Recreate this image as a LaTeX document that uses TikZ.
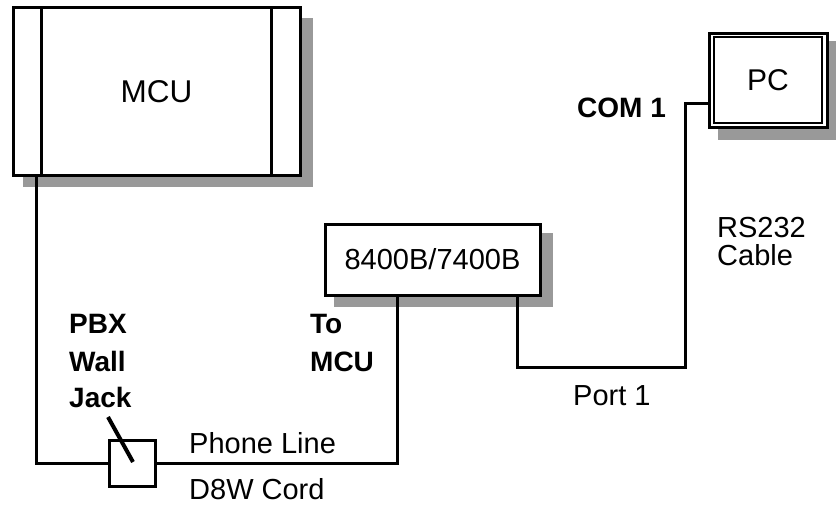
\documentclass[tikz,border=0pt]{standalone}
\usepackage{fontspec}
\setmainfont{Liberation Sans}
\usetikzlibrary{calc}
\definecolor{shadowgray}{RGB}{153,153,153}
\tikzset{
  box/.style={draw=black, line width=3pt, fill=white, rectangle, outer sep=0pt, inner sep=0pt,
     font=\fontsize{29}{29}\selectfont},
  wire/.style={draw=black, line width=3pt},
  lbl/.style={inner sep=0pt, anchor=base west, font=\fontsize{29}{29}\selectfont},
  blbl/.style={inner sep=0pt, anchor=base west, font=\fontsize{28}{28}\selectfont\bfseries},
}
\begin{document}
\begin{tikzpicture}[x=1pt,y=-1pt]
\useasboundingbox (0,0) rectangle (836,504);
% shadows
\fill[shadowgray] (23,18) rectangle (313,187);
\fill[shadowgray] (334,233) rectangle (553,307);
\fill[shadowgray] (718,41) rectangle (840,140);
% MCU
\node[box, minimum width=287pt, minimum height=167.5pt, font=\fontsize{31.5}{31.5}\selectfont] (mcu) at (156.5,91.25) {MCU};
\draw[wire] ($(mcu.north west)+(28.5,0)$) -- ($(mcu.south west)+(28.5,0)$);
\draw[wire] ($(mcu.north east)+(-28.5,0)$) -- ($(mcu.south east)+(-28.5,0)$);
% PC
\node[box, minimum width=118pt, minimum height=94pt, font=\fontsize{30}{30}\selectfont] (pc) at (768,80) {PC};
\draw[line width=2pt] ($(pc.north west)+(5,4)$) rectangle ($(pc.south east)+(-5,-4)$);
% 8400B/7400B
\node[box, minimum width=215pt, minimum height=71pt] (dev) at (432.5,259.5) {8400B/7400B};
% jack
\node[draw=black, line width=3pt, rectangle, outer sep=0pt, minimum width=46.5pt, minimum height=46.5pt] (jack) at (132.25,463.5) {};
\draw[line width=4pt] (108,417) -- (133,462);
% connectors
\coordinate (m1) at ($(mcu.south west)+(23,0)$);
\draw[wire] (m1) |- (jack.west);
\coordinate (d1) at ($(dev.south west)+(72,0)$);
\draw[wire] (jack.east) -| (d1);
\coordinate (d2) at ($(dev.south west)+(192,0)$);
\coordinate (c1) at (685,367);
\coordinate (pcin) at ($(pc.west)+(0,23)$);
\draw[wire] (d2) |- (c1) |- (pcin);
% labels
\node[blbl] (com) at (577,117) {COM 1};
\node[lbl] (rs) at (717,237) {RS232};
\node[lbl] (cab) at (717,265) {Cable};
\node[lbl] (port) at (573,405) {Port 1};
\node[blbl] (to) at (310,333) {To};
\node[blbl] (tomcu) at (310,371) {MCU};
\node[blbl] (pbx) at (69,333) {PBX};
\node[blbl] (wall) at (69,371) {Wall};
\node[blbl] (jk) at (69,407) {Jack};
\node[lbl] (phone) at (189,453) {Phone Line};
\node[lbl] (d8w) at (189,499) {D8W Cord};
\end{tikzpicture}
\end{document}
